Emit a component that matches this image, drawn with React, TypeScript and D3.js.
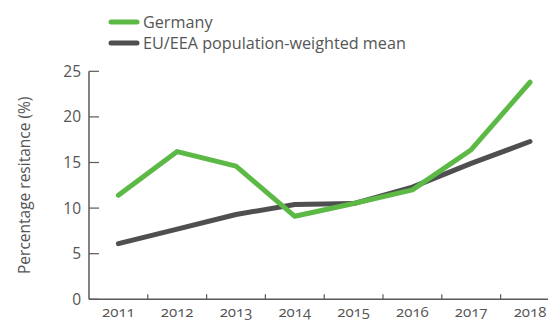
import React from "react";
import * as d3 from "d3";

const years = ["2011", "2012", "2013", "2014", "2015", "2016", "2017", "2018"];
const germany = [11.4, 16.2, 14.6, 9.1, 10.5, 12.0, 16.4, 23.8];
const euMean = [6.1, 7.7, 9.3, 10.4, 10.5, 12.3, 14.9, 17.3];
const yTicks = [0, 5, 10, 15, 20, 25];
const seriesNames = ["Germany", "EU/EEA population-weighted mean"];

const W = 548, H = 322;
const left = 89, bottom = 299.3, top = 71.3;
const band = 58.8;

export default function App() {
  const x = d3.scaleBand<string>().domain(years).range([left, left + band * years.length]).padding(0);
  const y = d3.scaleLinear().domain([0, 25]).range([bottom, top]);
  const line = d3.line<number>().x((_, i) => (x(years[i]) as number) + x.bandwidth() / 2).y((d) => y(d));
  const font = "'Open Sans', Lato, sans-serif";
  const axisColor = "#595959";
  const textColor = "#555";
  const colors = ["#5cb946", "#4f4f51"];
  const boundaries = years.slice(1).map((yr) => x(yr) as number);
  return (
    <svg width={W} height={H} style={{ position: "absolute", left: 0, top: 0 }} fontFamily={font}>
      {/* legend */}
      {seriesNames.map((n, i) => (
        <g key={n} transform={`translate(0, ${22 + i * 21})`}>
          <line x1={111} x2={137} y1={0} y2={0} stroke={colors[i]} strokeWidth={5} strokeLinecap="round" />
          <text x={143} y={0} dy="0.35em" fontSize={16.2} fill={textColor}>{n}</text>
        </g>
      ))}
      {/* y axis */}
      <line x1={left} x2={left} y1={top} y2={bottom} stroke={axisColor} strokeWidth={1.5} />
      {yTicks.map((t) => (
        <g key={t}>
          <line x1={left} x2={left + 10} y1={y(t)} y2={y(t)} stroke={axisColor} strokeWidth={1.2} />
          <text x={81} y={y(t)} dy="0.35em" textAnchor="end" fontSize={15.5} fill={textColor}>{t}</text>
        </g>
      ))}
      <text transform={`translate(25, ${(top + bottom) / 2}) rotate(-90)`} textAnchor="middle" dy="0.35em" fontSize={15.5} fill={textColor}>
        Percentage resitance (%)
      </text>
      {/* x axis */}
      <line x1={left} x2={W} y1={bottom} y2={bottom} stroke={axisColor} strokeWidth={1.5} />
      {boundaries.map((bx, i) => (
        <line key={i} x1={bx} x2={bx} y1={bottom} y2={bottom - 5} stroke={axisColor} strokeWidth={1.2} />
      ))}
      {years.map((yr) => (
        <text key={yr} x={(x(yr) as number) + x.bandwidth() / 2} y={316.5} textAnchor="middle" fontSize={15} fill={textColor} style={{ fontVariantNumeric: "oldstyle-nums" }}>
          {yr}
        </text>
      ))}
      {/* lines */}
      <path d={line(euMean) || ""} fill="none" stroke={colors[1]} strokeWidth={5} strokeLinecap="round" strokeLinejoin="round" />
      <path d={line(germany) || ""} fill="none" stroke={colors[0]} strokeWidth={5} strokeLinecap="round" strokeLinejoin="round" />
    </svg>
  );
}
